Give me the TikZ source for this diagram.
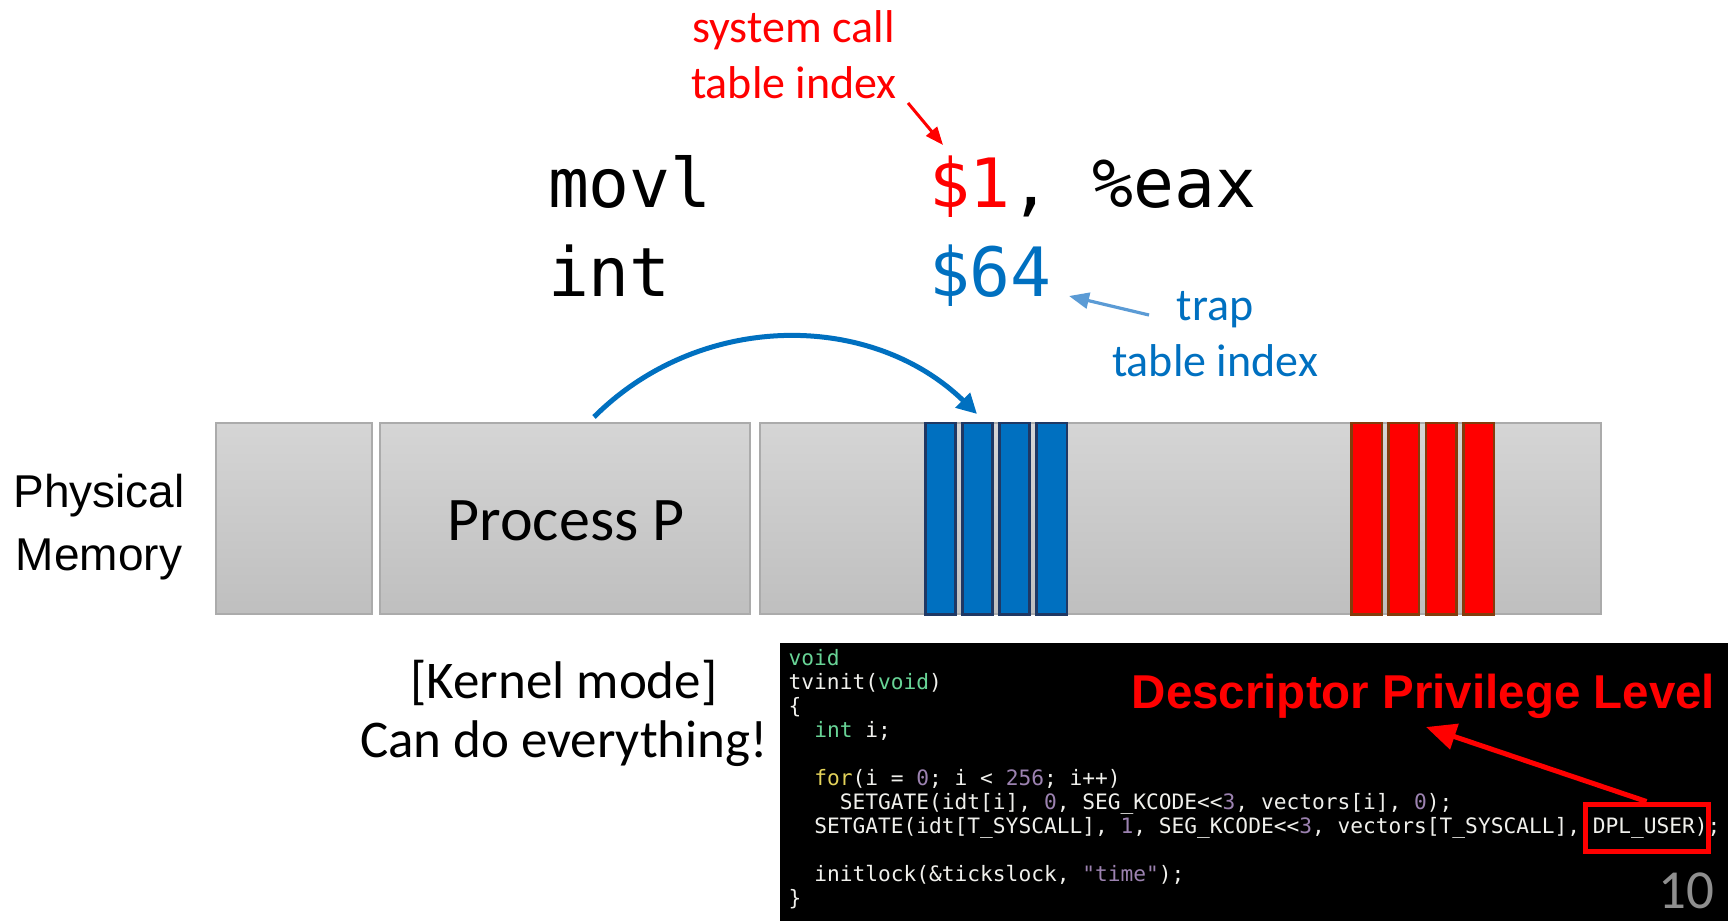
\documentclass[tikz,border=0pt]{standalone}
\usepackage{fontspec}
\setmainfont{Carlito}
\newfontfamily\arialfont{Liberation Sans}
\newfontfamily\asmfont{DejaVu Sans Mono}
\newfontfamily\codefont{DejaVu Sans Mono}
\usetikzlibrary{arrows.meta}

\definecolor{sysred}{HTML}{FF0000}
\definecolor{trapblue}{HTML}{0070C0}
\definecolor{lightblue}{HTML}{5B9BD5}
\definecolor{memtop}{HTML}{D5D5D5}
\definecolor{membot}{HTML}{BFBFBF}
\definecolor{memedge}{HTML}{ABABAB}
\definecolor{navy}{HTML}{1F3864}
\definecolor{rust}{HTML}{843C0C}
\definecolor{codewhite}{HTML}{F0F0EC}
\definecolor{codegreen}{HTML}{68D496}
\definecolor{codeyellow}{HTML}{E3D25A}
\definecolor{codenum}{HTML}{9C82B0}
\definecolor{pagegray}{HTML}{8F8F8F}

\tikzset{
  lbl/.style={anchor=base, inner sep=0pt, outer sep=0pt},
  lblw/.style={anchor=base west, inner sep=0pt, outer sep=0pt},
  memblk/.style={draw=memedge, line width=1pt, top color=memtop, bottom color=membot},
  bluebar/.style={draw=navy, line width=1.25pt, fill=trapblue},
  redbar/.style={draw=rust, line width=1.25pt, fill=sysred},
  note/.style={lbl, font=\fontsize{23}{28}\selectfont},
  asm/.style={lblw, font=\asmfont\fontsize{34}{40}\selectfont},
  code/.style={lblw, text=codewhite, font=\codefont\fontsize{10.6}{12}\selectfont},
}

\newcommand{\kw}[1]{{\color{codegreen}#1}}
\newcommand{\ctl}[1]{{\color{codeyellow}#1}}
\newcommand{\num}[1]{{\color{codenum}#1}}

\begin{document}
\begin{tikzpicture}[x=0.5pt, y=-0.5pt]
\useasboundingbox (0,0) rectangle (1728,921);

% ---- instruction pair ----
\node[asm] (movl) at (548,207.5) {movl};
\node[asm] (movarg) at (929,207.5) {{\color{sysred}\$1}, \%eax};
\node[asm] (intop) at (548,296.5) {int};
\node[asm, text=trapblue] (intarg) at (929,296.5) {\$64};

% ---- annotations ----
\node[note, text=sysred] (sc1) at (793.5,42.7) {system call};
\node[note, text=sysred] (sc2) at (794,98.3) {table index};
\node[note, text=trapblue] (tr1) at (1215,320) {trap};
\node[note, text=trapblue] (tr2) at (1215,376.7) {table index};

\coordinate (scfrom) at (908,103);
\coordinate (scto) at (943,145);
\draw[sysred, line width=1.5pt, -{Triangle[length=9pt,width=7pt]}] (scfrom) -- (scto);

\coordinate (trfrom) at (1149,315);
\coordinate (trto) at (1069,296);
\draw[lightblue, line width=1.6pt, -{Triangle[length=10pt,width=8pt]}] (trfrom) -- (trto);

% ---- physical memory ----
\node[lbl, font=\arialfont\fontsize{23}{28}\selectfont] (pm1) at (99,507) {Physical};
\node[lbl, font=\arialfont\fontsize{23}{28}\selectfont] (pm2) at (99,570) {Memory};

\path[memblk] (216,423) rectangle (371.7,614);
\path[memblk] (380,423) rectangle (749.8,614);
\path[memblk] (759.5,423) rectangle (1600.5,614);

\foreach \i in {0,...,3}{
  \draw[bluebar] ({925.25+37.1*\i},423) rectangle ({955.45+37.1*\i},614.5);
  \draw[redbar]  ({1351.25+37.33*\i},423) rectangle ({1381.75+37.33*\i},614.5);
}

\node[lbl, font=\fontsize{31}{36}\selectfont] (procp) at (566,540) {Process P};

% jump from the process into the trap table
\coordinate (jumpfrom) at (594,417);
\coordinate (jumpto) at (977,414);
\draw[trapblue, line width=2.5pt, -{Triangle[length=10pt,width=10pt]}]
  (jumpfrom) .. controls (700,311) and (871,311) .. (jumpto);

% ---- kernel mode note ----
\node[lbl, font=\fontsize{26.5}{31}\selectfont] (km1) at (564,698) {[Kernel mode]};
\node[lbl, font=\fontsize{26.5}{31}\selectfont] (km2) at (564,757) {Can do everything!};

% ---- tvinit listing ----
\fill[black] (780,643) rectangle (1728,921);
\node[code] (l1)  at (788.7,665) {\kw{void}};
\node[code] (l2)  at (788.7,689) {tvinit(\kw{void})};
\node[code] (l3)  at (788.7,713) {\{};
\node[code] (l4)  at (814.3,737) {\kw{int} i;};
\node[code] (l6)  at (814.3,785) {\ctl{for}(i = \num{0}; i < \num{256}; i++)};
\node[code] (l7)  at (839.8,809) {SETGATE(idt[i], \num{0}, SEG\_KCODE<<\num{3}, vectors[i], \num{0});};
\node[code] (l8)  at (814.3,833) {SETGATE(idt[T\_SYSCALL], \num{1}, SEG\_KCODE<<\num{3}, vectors[T\_SYSCALL], DPL\_USER);};
\node[code] (l10) at (814.3,881) {initlock(\&tickslock, \num{"time"});};
\node[code] (l11) at (788.7,905) {\}};

\node[lbl, text=sysred, font=\arialfont\bfseries\fontsize{23.75}{28}\selectfont] (dpl) at (1423.5,708) {Descriptor Privilege Level};

\node[draw=sysred, line width=2.5pt, minimum width=61.5pt, minimum height=23.5pt, inner sep=0pt] (dplbox) at (1646.5,827.5) {};
\coordinate (dpltip) at (1426,727);
\draw[sysred, line width=2.5pt, -{Triangle[length=15pt,width=13pt]}] (dplbox.north) -- (dpltip);

\node[lbl, anchor=base east, text=pagegray, font=\fontsize{27.5}{32}\selectfont] (pageno) at (1714,908) {10};
\end{tikzpicture}
\end{document}
